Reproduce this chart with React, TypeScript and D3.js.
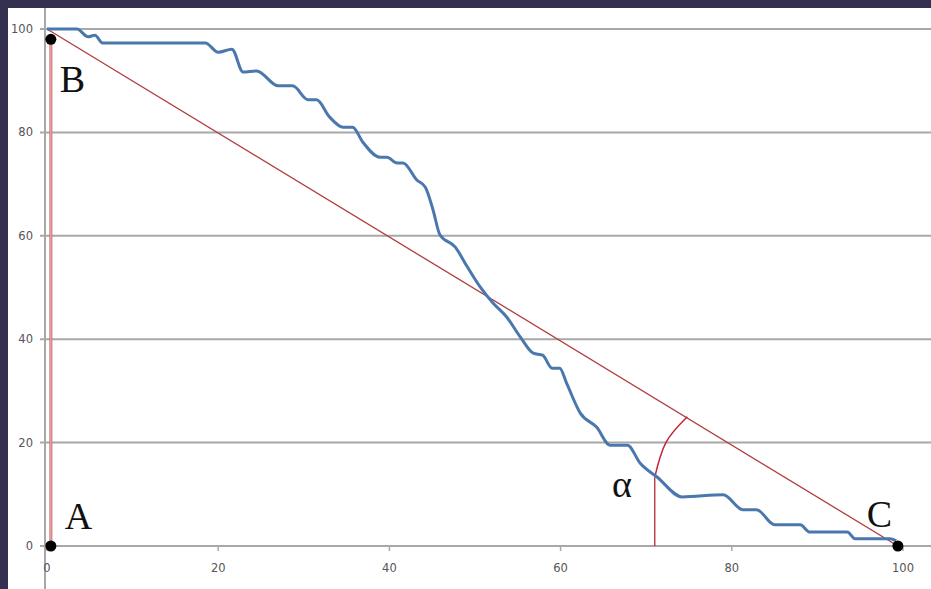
import * as d3 from "d3";

// blue curve
const curveX = [0, 3.5, 4.8, 5.6, 6.5, 18.5, 20, 21.6, 22.9, 24.5, 27, 28.7, 30.5, 31.5, 33, 34.6, 35.7, 36.9, 38.9, 39.7, 40.9, 41.6, 43.2, 44.2, 45.1, 45.9, 47.7, 49.1, 50.6, 52.1, 53.7, 55.3, 56.8, 57.9, 59, 59.9, 60.7, 62.3, 64.2, 65.8, 67.8, 69.3, 71.3, 74.2, 79, 81.3, 82.9, 85, 88, 89.1, 93.5, 94.4, 98.5, 99.2];
const curveY = [100, 100, 98.5, 98.8, 97.3, 97.3, 95.5, 96.1, 91.7, 91.9, 89, 89, 86.3, 86.3, 83, 81, 81, 78.1, 75.2, 75.2, 74.1, 74.1, 70.8, 69.4, 65, 60.2, 57.8, 54, 50.1, 47, 44.3, 40.4, 37.3, 36.9, 34.4, 34.4, 31.5, 25.7, 23, 19.5, 19.5, 16, 13.3, 9.5, 9.9, 7, 7, 4.1, 4.1, 2.7, 2.7, 1.4, 1.4, 1];

// triangle corners
const pointNames = ["A", "B", "C"];
const pointX = [0.45, 0.45, 99.4];
const pointY = [0, 98, 0];

// angle arc and its foot line
const arcX = [71, 72.3, 74.8];
const arcY = [13.3, 20, 25];
const footX = 71;

const ticks = [0, 20, 40, 60, 80, 100];

const W = 931;
const H = 589;

export default function App() {
  const x = d3.scaleLinear().domain([0, 100]).range([47, 903]);
  const y = d3.scaleLinear().domain([0, 100]).range([546, 29]);

  const blue = d3
    .line<number>()
    .x((d, i) => x(curveX[i]))
    .y((d, i) => y(curveY[i]))
    .curve(d3.curveMonotoneX)(curveY);

  const arc = d3
    .line<number>()
    .x((d, i) => x(arcX[i]))
    .y((d, i) => y(arcY[i]))
    .curve(d3.curveNatural)(arcY);

  // label offsets from each dot, px
  const labelPos: Record<string, [number, number]> = {
    A: [14, -17],
    B: [9, 53],
    C: [-31, -19],
  };

  return (
    <svg width={W} height={H} style={{ position: "absolute", left: 0, top: 0 }}>
      <rect width={W} height={H} fill="#34304f" />
      <rect x={8} y={8} width={W - 8} height={H - 8} fill="#ffffff" />

      {/* gridlines */}
      {ticks.map((t) => (
        <line key={"g" + t} x1={40} x2={W} y1={y(t)} y2={y(t)} stroke="#a8a8a8" strokeWidth={2} />
      ))}
      <line x1={45} x2={45} y1={8} y2={H} stroke="#a8a8a8" strokeWidth={2} />
      {ticks.map((t) => (
        <line key={"t" + t} x1={x(t)} x2={x(t)} y1={y(0)} y2={y(0) + 5} stroke="#a8a8a8" strokeWidth={1.5} />
      ))}

      {ticks.map((t) => (
        <text key={"yl" + t} x={33} y={y(t)} dy="0.35em" textAnchor="end" fontFamily="DejaVu Sans" fontSize={11.5} fill="#555">
          {t}
        </text>
      ))}
      {ticks.map((t) => (
        <text key={"xl" + t} x={x(t)} y={568} dy="0.35em" textAnchor="middle" fontFamily="DejaVu Sans" fontSize={11.5} fill="#555">
          {t}
        </text>
      ))}

      {/* red construction */}
      <line x1={x(pointX[1])} x2={x(pointX[0])} y1={y(pointY[1])} y2={y(pointY[0])} stroke="#cf6a6c" strokeWidth={3} />
      <line x1={x(pointX[1])} x2={x(pointX[0])} y1={y(pointY[1])} y2={y(pointY[0])} stroke="#f3d4d4" strokeWidth={0.8} />
      <line x1={x(0)} y1={y(100)} x2={x(pointX[2])} y2={y(pointY[2])} stroke="#b03c3f" strokeWidth={1.3} />
      <line x1={x(footX)} x2={x(footX)} y1={y(0)} y2={y(arcY[0])} stroke="#b02a35" strokeWidth={1.3} />
      <path d={arc ?? ""} fill="none" stroke="#c0283a" strokeWidth={1.5} />

      <path d={blue ?? ""} fill="none" stroke="#4a78ad" strokeWidth={3} strokeLinejoin="round" />

      {pointNames.map((n, i) => (
        <g key={n}>
          <circle cx={x(pointX[i])} cy={y(pointY[i])} r={5.5} fill="#000" />
          <text
            x={x(pointX[i]) + labelPos[n][0]}
            y={y(pointY[i]) + labelPos[n][1]}
            fontFamily="Liberation Serif"
            fontSize={38}
            fill="#111"
          >
            {n}
          </text>
        </g>
      ))}
      <text x={612} y={497} fontFamily="Liberation Serif" fontSize={38} fill="#111">
        α
      </text>
    </svg>
  );
}
